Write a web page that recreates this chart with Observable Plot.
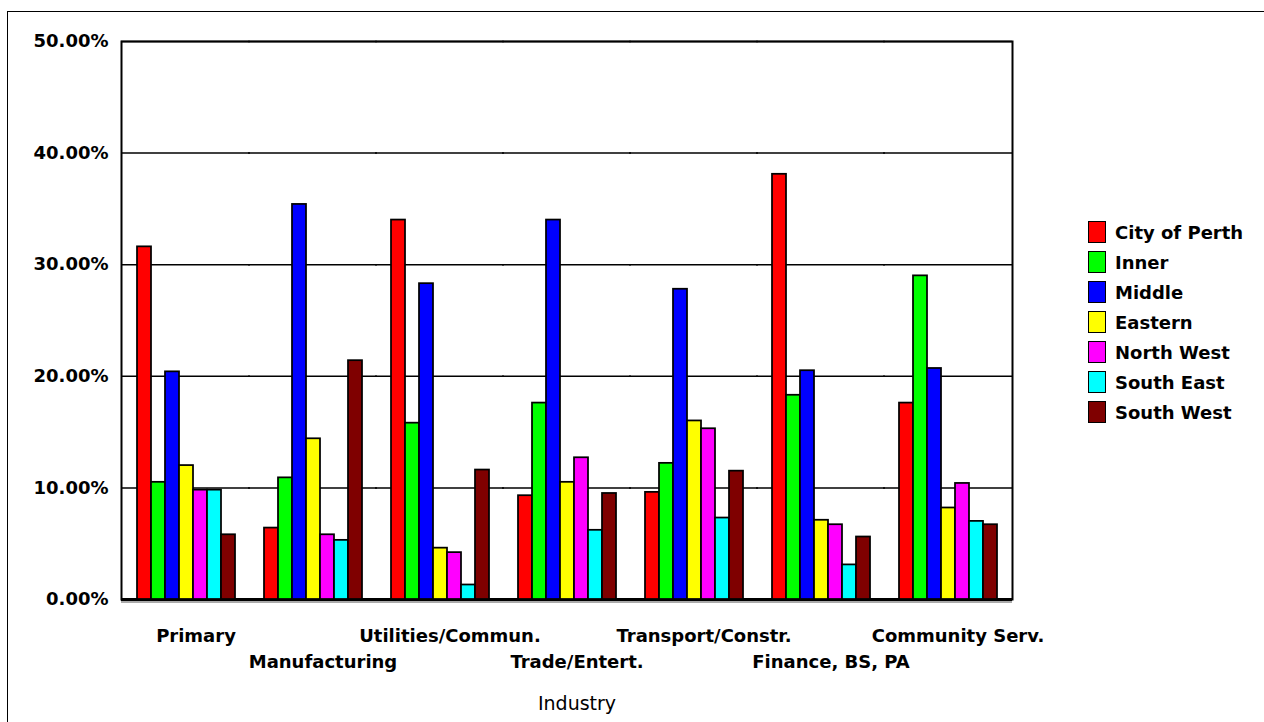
<!DOCTYPE html>
<html><head><meta charset="utf-8">
<script src="https://cdn.jsdelivr.net/npm/d3@7"></script>
<script src="https://cdn.jsdelivr.net/npm/@observablehq/plot@0.6"></script>
<style>
html,body{margin:0;padding:0;background:#fff;overflow:hidden;width:1264px;height:722px}
#wrap{position:relative;width:1264px;height:722px}
#wrap svg{position:absolute;left:0;top:0}
#border{position:absolute;left:7px;top:11px;width:1300px;height:800px;border:1.5px solid #000;pointer-events:none}
#legend{position:absolute;left:1088px;top:217px;font-family:"DejaVu Sans";font-weight:bold;font-size:18px;color:#000}
.row{display:flex;align-items:center;height:30px}
.sw{width:18px;height:22px;border:1.5px solid #000;margin-right:9px;box-sizing:border-box}
</style></head>
<body>
<div id="wrap"><div id="border"></div><div id="legend"></div></div>
<script>
const industries = ["Primary","Manufacturing","Utilities/Commun.","Trade/Entert.","Transport/Constr.","Finance, BS, PA","Community Serv."];
const regions = ["City of Perth","Inner","Middle","Eastern","North West","South East","South West"];
const colors = ["#ff0000","#00ff00","#0000ff","#ffff00","#ff00ff","#00ffff","#7f0000"];
const cityOfPerth = [31.6, 6.4, 34.0, 9.3, 9.6, 38.1, 17.6];
const inner      = [10.5, 10.9, 15.8, 17.6, 12.2, 18.3, 29.0];
const middle     = [20.4, 35.4, 28.3, 34.0, 27.8, 20.5, 20.7];
const eastern    = [12.0, 14.4, 4.6, 10.5, 16.0, 7.1, 8.2];
const northWest  = [9.8, 5.8, 4.2, 12.7, 15.3, 6.7, 10.4];
const southEast  = [9.8, 5.3, 1.3, 6.2, 7.3, 3.1, 7.0];
const southWest  = [5.8, 21.4, 11.6, 9.5, 11.5, 5.6, 6.7];
const yTicks = [0, 10, 20, 30, 40, 50];
const xLabel = "Industry";

const series = [cityOfPerth, inner, middle, eastern, northWest, southEast, southWest];
const data = industries.flatMap((ind, i) => regions.map((r, j) => ({industry: ind, region: r, value: series[j][i]})));
const row1 = industries.filter((d, i) => i % 2 === 0);
const row2 = industries.filter((d, i) => i % 2 === 1);

const chart = Plot.plot({
  width: 1264, height: 722,
  marginLeft: 120, marginRight: 252, marginTop: 41, marginBottom: 123,
  style: {fontFamily: "DejaVu Sans", fontSize: "18px", fontWeight: "bold", background: "transparent", color: "#000"},
  fx: {domain: industries, paddingInner: 0.19, paddingOuter: 0.102, label: null, axis: null},
  x: {domain: regions, padding: 0, axis: null},
  y: {domain: [0, 50], label: null},
  color: {domain: regions, range: colors},
  marks: [
    Plot.ruleY(yTicks, {stroke: "#000", strokeWidth: 1.5, insetLeft: -13, insetRight: -13}),
    Plot.ruleY([0], {stroke: "#aaa", strokeWidth: 2, dy: 2.5, insetLeft: -13, insetRight: -13}),
    Plot.ruleY([0], {stroke: "#000", strokeWidth: 3, insetLeft: -13, insetRight: -13}),
    Plot.frame({facet: "super", stroke: "#000", strokeWidth: 2, insetLeft: -13, insetRight: -13}),
    Plot.barY(data, {fx: "industry", x: "region", y: "value", fill: "region", stroke: "#000", strokeWidth: 1.75}),
    Plot.axisY(yTicks, {tickSize: 0, tickPadding: 26, tickFormat: d => d.toFixed(2) + "%", label: null}),
    Plot.text(row1, {fx: d => d, text: d => d, frameAnchor: "bottom", lineAnchor: "middle", dy: 37, dx: 10, fontSize: 18, fontWeight: "bold"}),
    Plot.text(row2, {fx: d => d, text: d => d, frameAnchor: "bottom", lineAnchor: "middle", dy: 63, dx: 10, fontSize: 18, fontWeight: "bold"}),
    Plot.text([xLabel], {facet: "super", frameAnchor: "bottom", lineAnchor: "middle", dy: 104, dx: 10, fontWeight: "normal", fontSize: 19})
  ]
});
document.getElementById("wrap").prepend(chart);

const legend = document.getElementById("legend");
regions.forEach((r, i) => {
  const row = document.createElement("div");
  row.className = "row";
  const sw = document.createElement("div");
  sw.className = "sw";
  sw.style.background = colors[i];
  const t = document.createElement("span");
  t.textContent = r;
  row.append(sw, t);
  legend.append(row);
});
</script>
</body></html>
